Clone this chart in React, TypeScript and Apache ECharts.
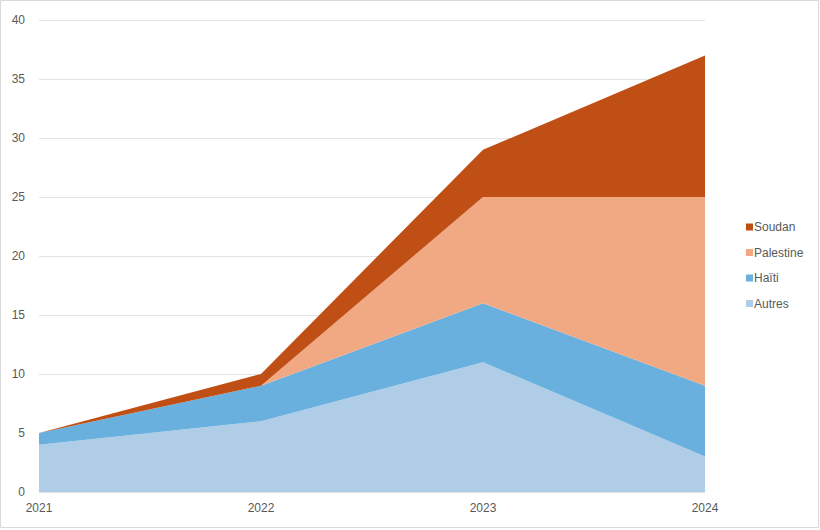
import React, { useEffect, useRef } from "react";
import * as echarts from "echarts";

const years = ["2021", "2022", "2023", "2024"];
const autres = [4, 6, 11, 3];
const haiti = [1, 3, 5, 6];
const palestine = [0, 0, 9, 16];
const soudan = [0, 1, 4, 12];

const colors = {
  Soudan: "#C04F15",
  Palestine: "#F1A983",
  "Haïti": "#6AB0DE",
  Autres: "#AFCDE6",
};

export default function App() {
  const ref = useRef<HTMLDivElement>(null);
  useEffect(() => {
    document.body.style.margin = "0";
    const chart = echarts.init(ref.current!, null, { renderer: "svg" });
    const mk = (name: string, data: number[]) => ({
      name,
      type: "line",
      stack: "total",
      data,
      symbol: "none",
      lineStyle: { width: 0 },
      areaStyle: { color: (colors as any)[name], opacity: 1 },
      itemStyle: { color: (colors as any)[name] },
    });
    chart.setOption({
      animation: false,
      textStyle: { fontFamily: "Liberation Sans, Arial, sans-serif" },
      graphic: [
        {
          type: "rect",
          shape: { x: 0.5, y: 0.5, width: 818, height: 527 },
          style: { fill: "none", stroke: "#d9d9d9", lineWidth: 1 },
          silent: true,
        },
      ],
      grid: { left: 39, right: 115, top: 20, bottom: 38 },
      legend: {
        orient: "vertical",
        left: 741,
        top: 216,
        itemWidth: 7,
        itemHeight: 7,
        itemGap: 13.5,
        icon: "rect",
        data: ["Soudan", "Palestine", "Haïti", "Autres"],
        textStyle: { color: "#595959", fontSize: 12, padding: [0, 0, 0, -4] },
      },
      xAxis: {
        type: "category",
        boundaryGap: false,
        data: years,
        axisLine: { show: false },
        axisTick: { show: false },
        axisLabel: { color: "#595959", fontSize: 12, margin: 10 },
      },
      yAxis: {
        type: "value",
        min: 0,
        max: 40,
        interval: 5,
        axisLine: { show: false },
        axisTick: { show: false },
        axisLabel: { color: "#595959", fontSize: 12, margin: 14 },
        splitLine: { lineStyle: { color: "#e3e3e3", width: 1 } },
      },
      series: [
        mk("Autres", autres),
        mk("Haïti", haiti),
        mk("Palestine", palestine),
        mk("Soudan", soudan),
      ],
    });
    return () => chart.dispose();
  }, []);
  return <div ref={ref} style={{ width: 820, height: 530 }} />;
}
